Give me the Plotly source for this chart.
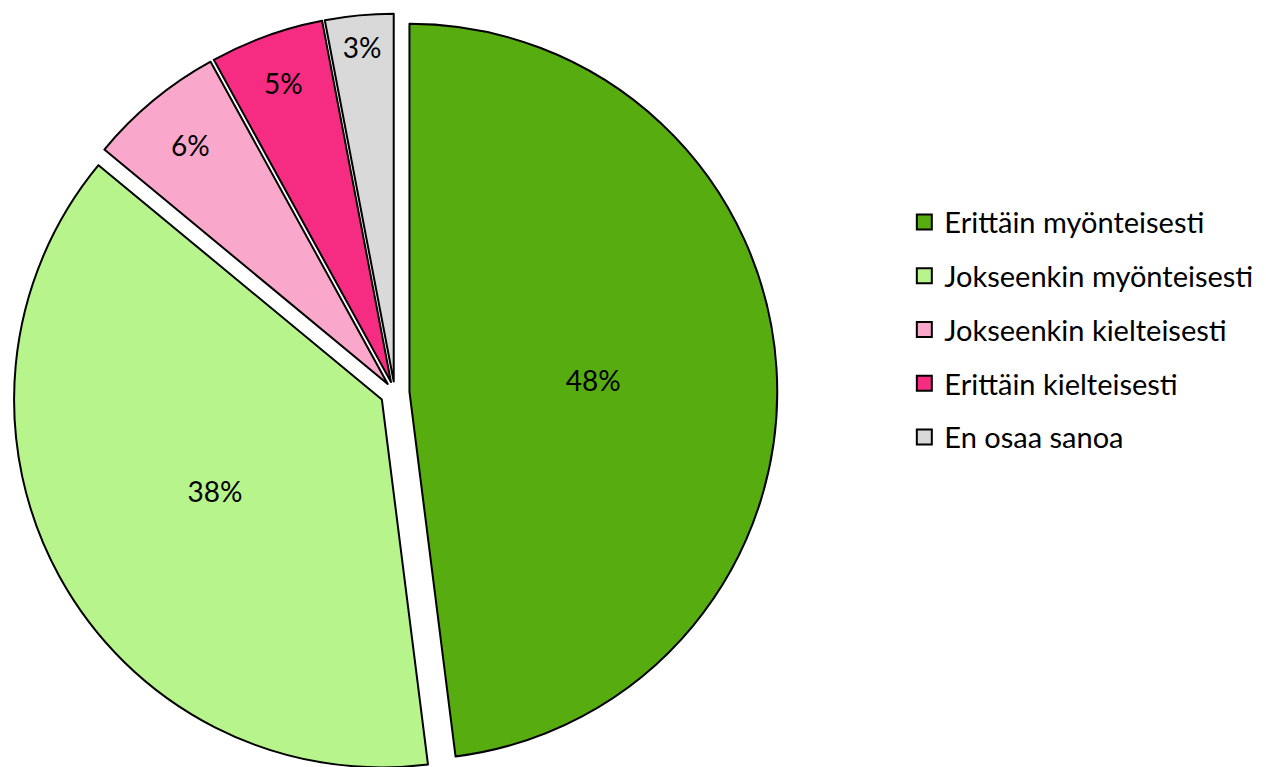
import plotly.graph_objects as go

categories = ["Erittäin myönteisesti", "Jokseenkin myönteisesti", "Jokseenkin kielteisesti",
              "Erittäin kielteisesti", "En osaa sanoa"]
values = [48, 38, 6, 5, 3]
colors = ["#57AD0F", "#B8F48C", "#F9A8CB", "#F52C81", "#D9D9D9"]
pulls = [0.04, 0.04, 0.03, 0.03, 0.03]

FONT = "Lato"

fig = go.Figure()
fig.add_trace(go.Pie(
    labels=categories, values=values, sort=False, direction="clockwise", rotation=0,
    marker=dict(colors=colors, line=dict(color="black", width=2)),
    pull=pulls, texttemplate="%{percent:.0%}", textposition="inside",
    insidetextorientation="horizontal",
    textfont=dict(family=FONT, size=28, color="black"),
    domain=dict(x=[0, 0.611], y=[0, 1]), showlegend=False, hoverinfo="label+percent",
))
for cat, col in zip(categories, colors):
    fig.add_trace(go.Scatter(
        x=[None], y=[None], mode="markers", name=cat, legendgroup=cat,
        marker=dict(symbol="square", size=15, color=col, line=dict(color="black", width=2)),
    ))

fig.update_layout(
    width=1266, height=767, margin=dict(l=0, r=0, t=2, b=0),
    paper_bgcolor="white", plot_bgcolor="white",
    xaxis=dict(visible=False), yaxis=dict(visible=False),
    legend=dict(x=0.708, y=0.582, xanchor="left", yanchor="middle",
                font=dict(family=FONT, size=29, color="black"),
                tracegroupgap=13, itemwidth=30),
)
fig.write_html("out.html")
